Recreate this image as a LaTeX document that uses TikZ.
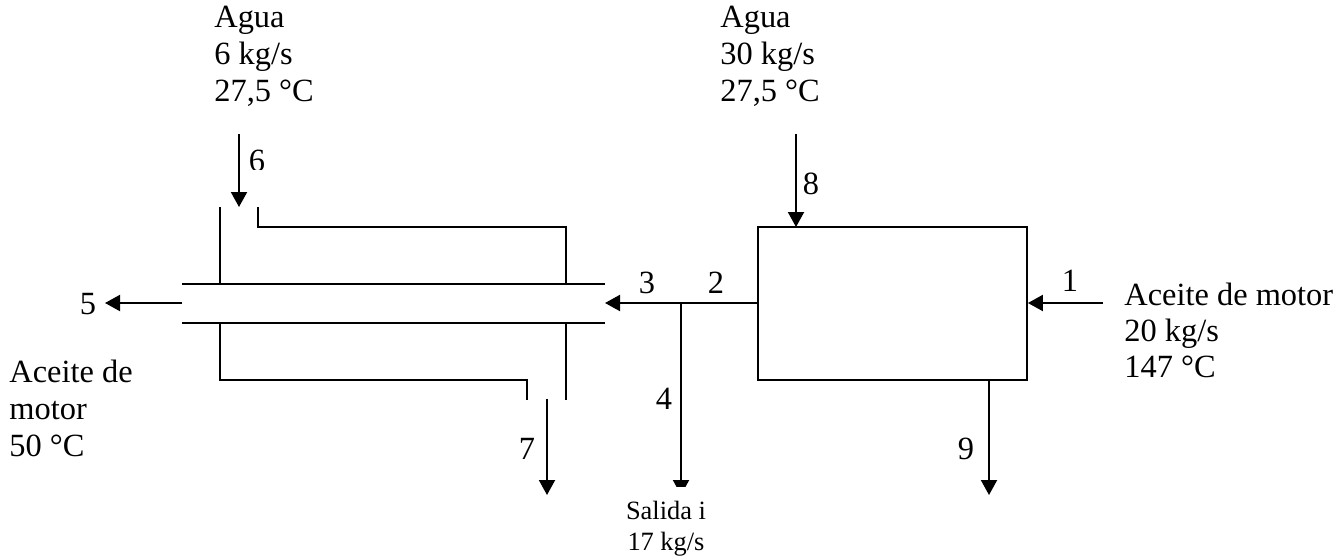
\documentclass[tikz,border=0pt]{standalone}
\usepackage{fontspec}
\setmainfont{Liberation Serif}
\usetikzlibrary{arrows.meta}
\tikzset{
	flow/.style={line width=1pt, -{Triangle[length=7.5pt, width=8pt]}},
	pipe/.style={line width=0.9pt},
	lab/.style={inner sep=0pt, font=\fontsize{16.2}{16}\selectfont},
	data/.style={lab, align=left, anchor=north west},
	small/.style={inner xsep=0pt, inner ysep=7pt, fill=white, align=center, font=\fontsize{13.2}{15.5}\selectfont},
}
\begin{document}
\begin{tikzpicture}[x=0.5pt, y=-0.5pt]
	\useasboundingbox (0, 0) rectangle (1337, 558);
	% heat exchanger with the tube through it
	\draw[pipe] (220, 207) -- (220, 284);
	\draw[pipe] (258, 207) -- (258, 227) -- (566, 227) -- (566, 284);
	\draw[pipe] (182, 284) -- (605, 284);
	\draw[pipe] (182, 323) -- (605, 323);
	\draw[pipe] (220, 323) -- (220, 380) -- (527, 380) -- (527, 400);
	\draw[pipe] (566, 323) -- (566, 400);
	% recovery unit
	\node[draw, line width=0.9pt, minimum width=134.5pt, minimum height=76.5pt, inner sep=0pt] (unit) at (892.5, 303.5) {};
	% free ends of the streams
	\coordinate (in1) at (1103, 303);
	\coordinate (out5a) at (182, 303);
	\coordinate (out5b) at (105, 303);
	\coordinate (tube) at (605, 303);
	\coordinate (split) at (681, 303);
	\coordinate (in6a) at (239, 134);
	\coordinate (in6b) at (239, 207);
	\coordinate (in8a) at (796, 134);
	\coordinate (in8b) at (796, 227);
	\coordinate (out7a) at (547, 399);
	\coordinate (out7b) at (547, 495);
	\coordinate (out9a) at (989, 380);
	\coordinate (out9b) at (989, 495);
	\coordinate (out4) at (681, 495);
	\draw[flow] (in1) -- (unit.east |- in1);
	\draw[flow] (unit.west |- tube) -- (tube);
	\draw[flow] (out5a) -- (out5b);
	\draw[flow] (in6a) -- (in6b);
	\draw[flow] (in8a) -- (in8b);
	\draw[flow] (out7a) -- (out7b);
	\draw[flow] (out9a) -- (out9b);
	\draw[flow] (split) -- (out4);
	% stream numbers
	\node[lab] (n1) at (1070, 281) {1};
	\node[lab] (n2) at (716, 283) {2};
	\node[lab] (n3) at (647, 283) {3};
	\node[lab] (n4) at (664, 399) {4};
	\node[lab] (n5) at (88, 304) {5};
	\begin{scope}
		\clip (245, 140) rectangle (275, 169);
		\node[lab] (n6) at (257, 161) {6};
	\end{scope}
	\node[lab] (n7) at (527, 449) {7};
	\node[lab] (n8) at (811, 184) {8};
	\node[lab] (n9) at (966, 449) {9};
	% stream data
	\node[data] (agua6) at (214, 6) {Agua\\[2.5pt]6 kg/s\\[2.5pt]27,5 °C};
	\node[data] (agua30) at (720, 6) {Agua\\[2.5pt]30 kg/s\\[2.5pt]27,5 °C};
	\node[data] (aceite1) at (1124, 283) {Aceite de motor\\[2pt]20 kg/s\\[2pt]147 °C};
	\node[data] (aceite5) at (9, 360) {Aceite de\\[2.5pt]motor\\[2.5pt]50 °C};
	\node[small, anchor=north] (salida) at (666, 487) {Salida i\\17 kg/s};
\end{tikzpicture}
\end{document}
